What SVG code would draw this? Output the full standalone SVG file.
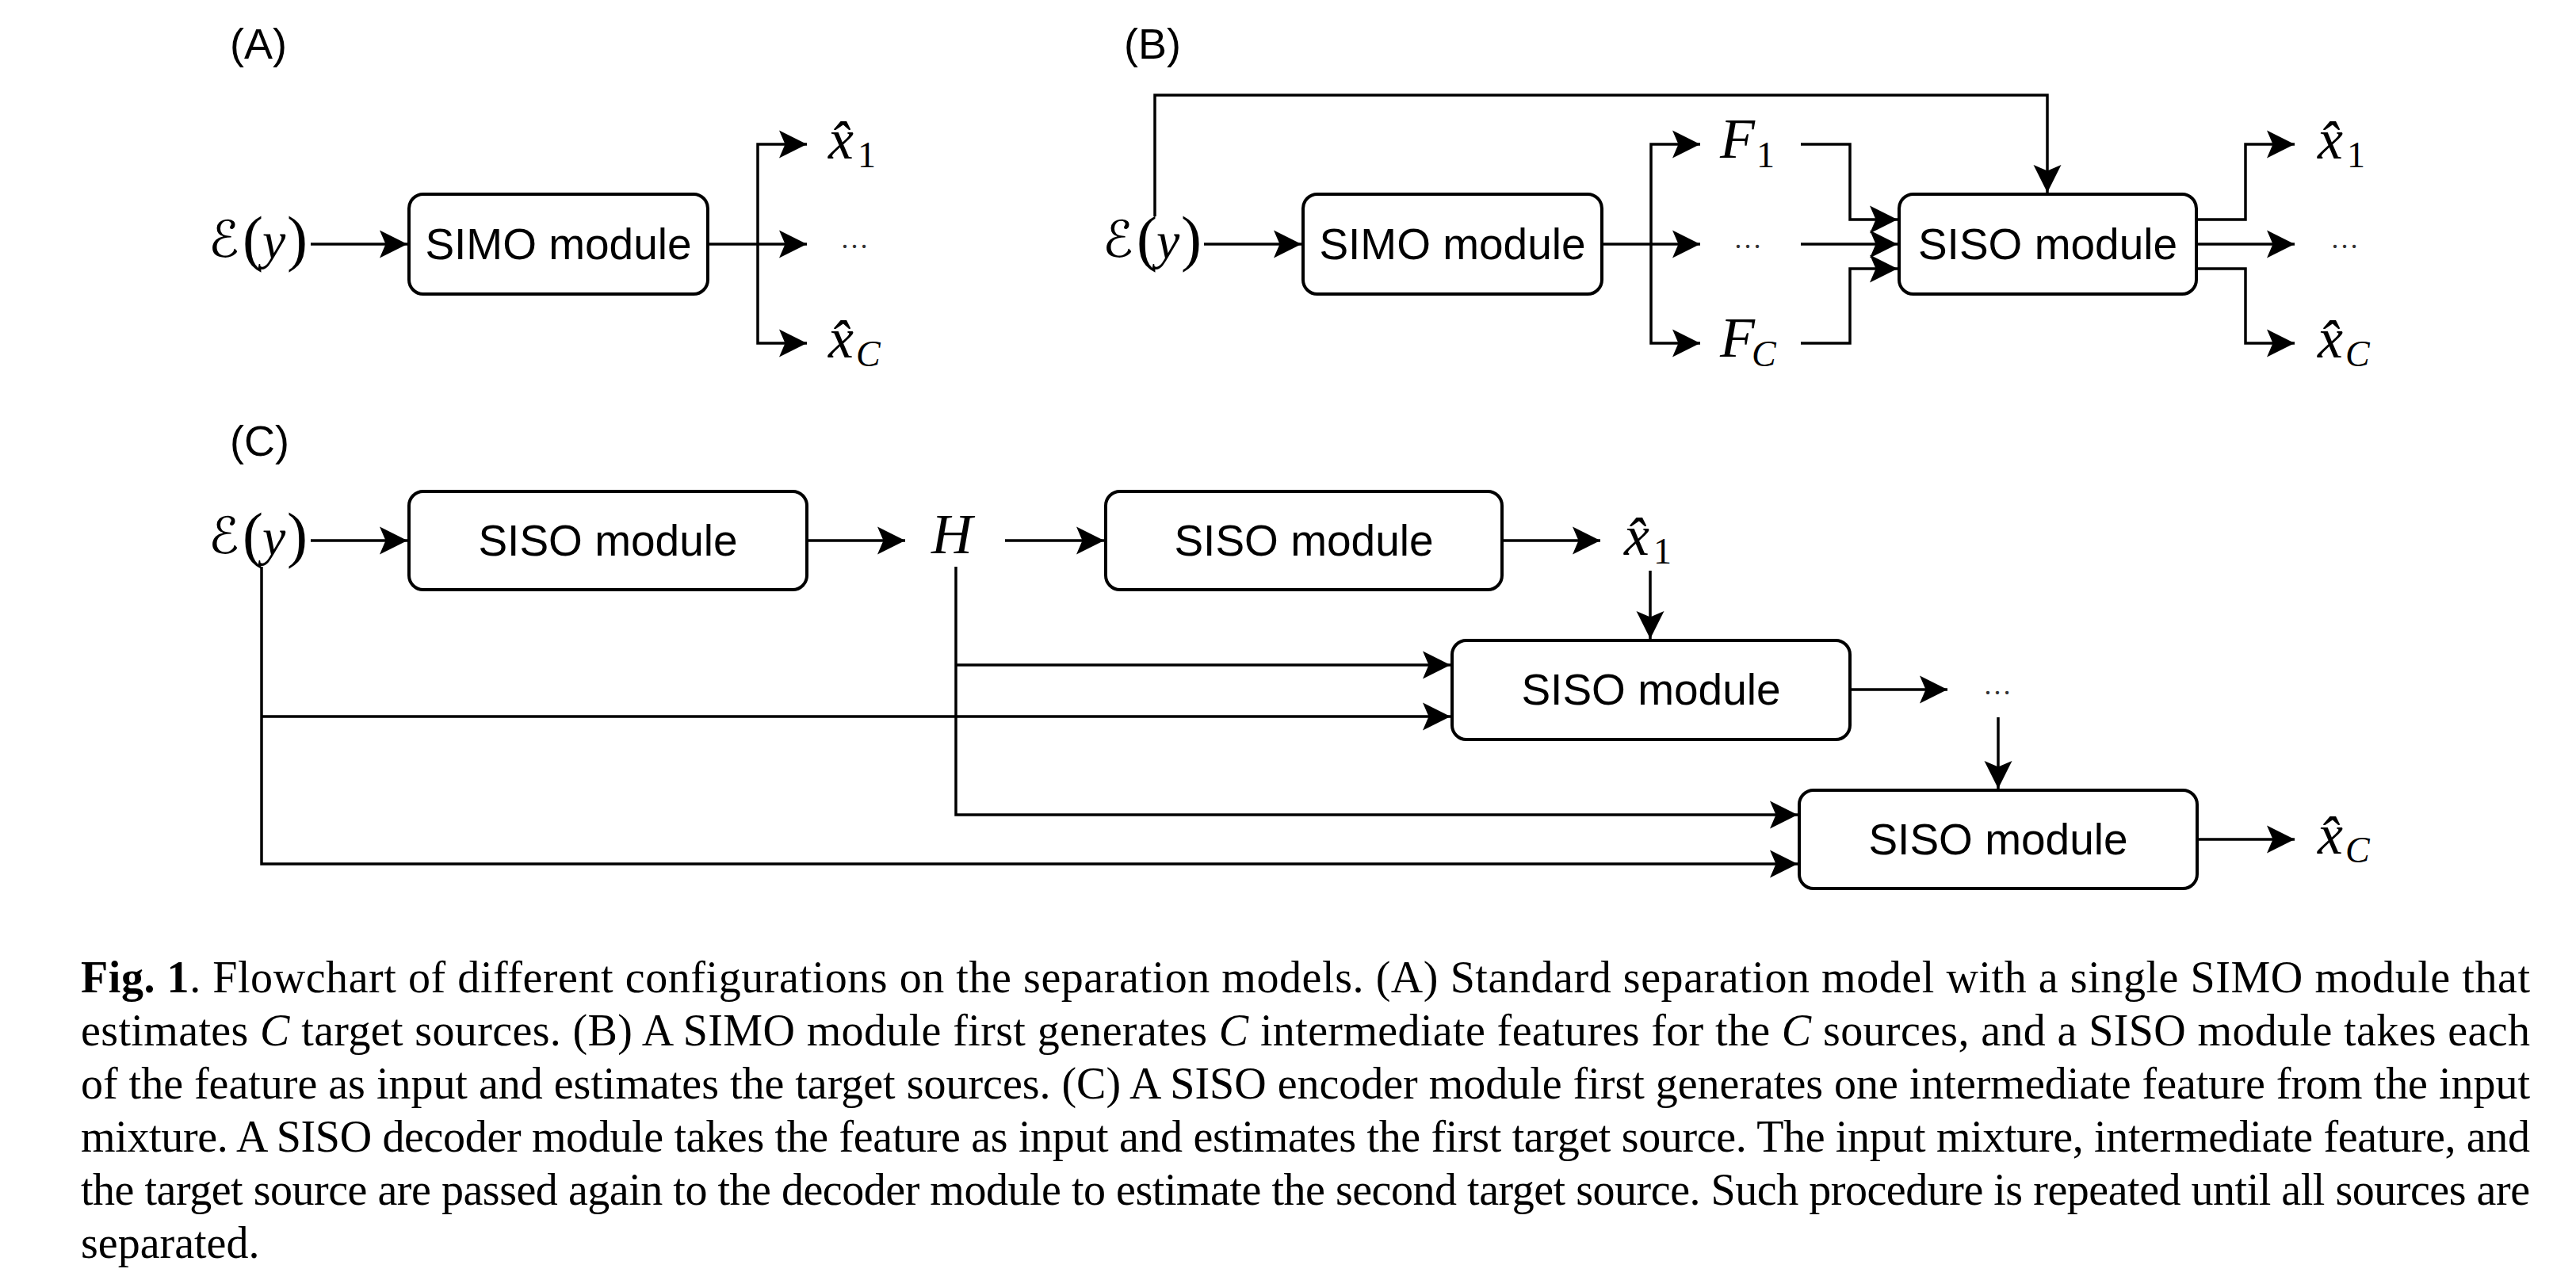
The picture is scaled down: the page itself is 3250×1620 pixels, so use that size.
<svg xmlns="http://www.w3.org/2000/svg" width="3250" height="1620" viewBox="0 0 3250 1620">
<style>
.bg{fill:#fff}
.box{fill:#fff;stroke:#000;stroke-width:4}
.lbl{font-family:"Liberation Sans",Arial,sans-serif;font-size:54px;fill:#000}
.bt{font-family:"Liberation Sans",Arial,sans-serif;font-size:55px;fill:#000;text-anchor:middle}
.m{font-family:"Liberation Serif","Times New Roman",serif;font-size:66px;fill:#000}
.mi{font-style:italic}
.xh{font-style:italic;font-size:72px}
.big{font-size:72px}
.par{font-size:78px;font-style:normal}
.sub{font-size:46px}
.cal{font-family:"DejaVu Serif","DejaVu Sans","Noto Sans",serif;font-style:italic;font-size:64px}
.dots{font-family:"Liberation Serif",serif;font-size:36px;fill:#333;text-anchor:middle}
.cap{font-family:"Liberation Serif","Times New Roman",serif;font-size:56px;fill:#000}
.cn{fill:none;stroke:#000;stroke-width:3.5}
.ar{marker-end:url(#ah)}
</style>
<defs>
<marker id="ah" markerUnits="userSpaceOnUse" markerWidth="40" markerHeight="40" viewBox="-30 -16 32 32" refX="0" refY="0" orient="auto">
<path d="M0,0 L-28,-14 L-22,0 L-28,14 Z" fill="#000"/>
</marker>
</defs>
<rect class="bg" x="0" y="0" width="3250" height="1620"/>

<g id="connectors">
<!-- Panel A -->
<path class="cn ar" d="M392,308 H514"/>
<path class="cn" d="M893,308 H956"/>
<path class="cn ar" d="M956,308 V182 H1018"/>
<path class="cn ar" d="M956,308 H1018"/>
<path class="cn ar" d="M956,308 V433 H1018"/>
<!-- Panel B -->
<path class="cn ar" d="M1457,273 V120 H2583 V243"/>
<path class="cn ar" d="M1519,308 H1642"/>
<path class="cn" d="M2021,308 H2083"/>
<path class="cn ar" d="M2083,308 V182 H2145"/>
<path class="cn ar" d="M2083,308 H2145"/>
<path class="cn ar" d="M2083,308 V433 H2145"/>
<path class="cn ar" d="M2272,182 H2334 V277 H2394"/>
<path class="cn ar" d="M2272,308 H2394"/>
<path class="cn ar" d="M2272,433 H2334 V339 H2394"/>
<path class="cn ar" d="M2771,277 H2833 V182 H2895"/>
<path class="cn ar" d="M2771,308 H2895"/>
<path class="cn ar" d="M2771,339 H2833 V433 H2895"/>
<!-- Panel C -->
<path class="cn ar" d="M392,682 H514"/>
<path class="cn ar" d="M1018,682 H1142"/>
<path class="cn ar" d="M1268,682 H1393"/>
<path class="cn ar" d="M1895,682 H2019"/>
<path class="cn ar" d="M2082,720 V806"/>
<path class="cn ar" d="M2334,870 H2457"/>
<path class="cn ar" d="M2521,905 V995"/>
<path class="cn ar" d="M2772,1059 H2895"/>
<path class="cn ar" d="M1206,715 V1028 H2268"/>
<path class="cn ar" d="M1206,839 H1830"/>
<path class="cn ar" d="M330,715 V1090 H2268"/>
<path class="cn ar" d="M330,904 H1830"/>
</g>

<!-- Panel labels -->
<g id="label-A"><text class="lbl" x="290" y="74">(A)</text></g>
<g id="label-B"><text class="lbl" x="1418" y="74">(B)</text></g>
<g id="label-C"><text class="lbl" x="290" y="575">(C)</text></g>

<!-- Panel A nodes -->
<g id="A-input"><text class="m"><tspan class="cal" x="263" y="324">ℰ</tspan><tspan class="par" x="306" y="327">(</tspan><tspan class="mi" x="331" y="326">y</tspan><tspan class="par" x="362" y="327">)</tspan></text></g>
<g id="A-simo"><rect class="box" x="516" y="245" width="377" height="126" rx="18"/><text class="bt" x="704.5" y="327">SIMO module</text></g>
<g id="A-x1"><text class="m"><tspan class="xh" x="1045" y="200">x̂</tspan><tspan class="sub" x="1082" y="211">1</tspan></text></g>
<g id="A-dots"><text class="dots" x="1078" y="313">…</text></g>
<g id="A-xC"><text class="m"><tspan class="xh" x="1045" y="451">x̂</tspan><tspan class="sub mi" x="1080" y="462">C</tspan></text></g>

<!-- Panel B nodes -->
<g id="B-input"><text class="m"><tspan class="cal" x="1391" y="324">ℰ</tspan><tspan class="par" x="1434" y="327">(</tspan><tspan class="mi" x="1459" y="326">y</tspan><tspan class="par" x="1490" y="327">)</tspan></text></g>
<g id="B-simo"><rect class="box" x="1644" y="245" width="377" height="126" rx="18"/><text class="bt" x="1832.5" y="327">SIMO module</text></g>
<g id="B-F1"><text class="m"><tspan class="mi big" x="2170" y="199">F</tspan><tspan class="sub" x="2216" y="211">1</tspan></text></g>
<g id="B-dots1"><text class="dots" x="2205" y="313">…</text></g>
<g id="B-FC"><text class="m"><tspan class="mi big" x="2170" y="450">F</tspan><tspan class="sub mi" x="2210" y="462">C</tspan></text></g>
<g id="B-siso"><rect class="box" x="2396" y="245" width="375" height="126" rx="18"/><text class="bt" x="2583.5" y="327">SISO module</text></g>
<g id="B-x1"><text class="m"><tspan class="xh" x="2924" y="200">x̂</tspan><tspan class="sub" x="2961" y="211">1</tspan></text></g>
<g id="B-dots2"><text class="dots" x="2958" y="313">…</text></g>
<g id="B-xC"><text class="m"><tspan class="xh" x="2924" y="451">x̂</tspan><tspan class="sub mi" x="2959" y="462">C</tspan></text></g>

<!-- Panel C nodes -->
<g id="C-input"><text class="m"><tspan class="cal" x="263" y="698">ℰ</tspan><tspan class="par" x="306" y="701">(</tspan><tspan class="mi" x="331" y="700">y</tspan><tspan class="par" x="362" y="701">)</tspan></text></g>
<g id="C-siso1"><rect class="box" x="516" y="620" width="502" height="124" rx="18"/><text class="bt" x="767" y="701">SISO module</text></g>
<g id="C-H"><text class="m mi big" x="1175" y="698">H</text></g>
<g id="C-siso2"><rect class="box" x="1395" y="620" width="500" height="124" rx="18"/><text class="bt" x="1645" y="701">SISO module</text></g>
<g id="C-x1"><text class="m"><tspan class="xh" x="2049" y="700">x̂</tspan><tspan class="sub" x="2086" y="711">1</tspan></text></g>
<g id="C-siso3"><rect class="box" x="1832" y="808" width="502" height="125" rx="18"/><text class="bt" x="2083" y="889">SISO module</text></g>
<g id="C-dots"><text class="dots" x="2520" y="876">…</text></g>
<g id="C-siso4"><rect class="box" x="2270" y="997" width="502" height="124" rx="18"/><text class="bt" x="2521" y="1078">SISO module</text></g>
<g id="C-xC"><text class="m"><tspan class="xh" x="2924" y="1077">x̂</tspan><tspan class="sub mi" x="2959" y="1088">C</tspan></text></g>

<!-- Caption -->
<g id="caption">
<text class="cap" x="102" y="1252" textLength="3090" lengthAdjust="spacing"><tspan font-weight="bold">Fig. 1</tspan>.  Flowchart of different configurations on the separation models.  (A) Standard separation model with a single SIMO module that</text>
<text class="cap" x="102" y="1319" textLength="3090" lengthAdjust="spacing">estimates <tspan font-style="italic">C</tspan> target sources.  (B) A SIMO module first generates <tspan font-style="italic">C</tspan> intermediate features for the <tspan font-style="italic">C</tspan> sources, and a SISO module takes each</text>
<text class="cap" x="102" y="1386" textLength="3090" lengthAdjust="spacing">of the feature as input and estimates the target sources.  (C) A SISO encoder module first generates one intermediate feature from the input</text>
<text class="cap" x="102" y="1453" textLength="3090" lengthAdjust="spacing">mixture. A SISO decoder module takes the feature as input and estimates the first target source. The input mixture, intermediate feature, and</text>
<text class="cap" x="102" y="1520" textLength="3090" lengthAdjust="spacing">the target source are passed again to the decoder module to estimate the second target source. Such procedure is repeated until all sources are</text>
<text class="cap" x="102" y="1587">separated.</text>
</g>
</svg>
